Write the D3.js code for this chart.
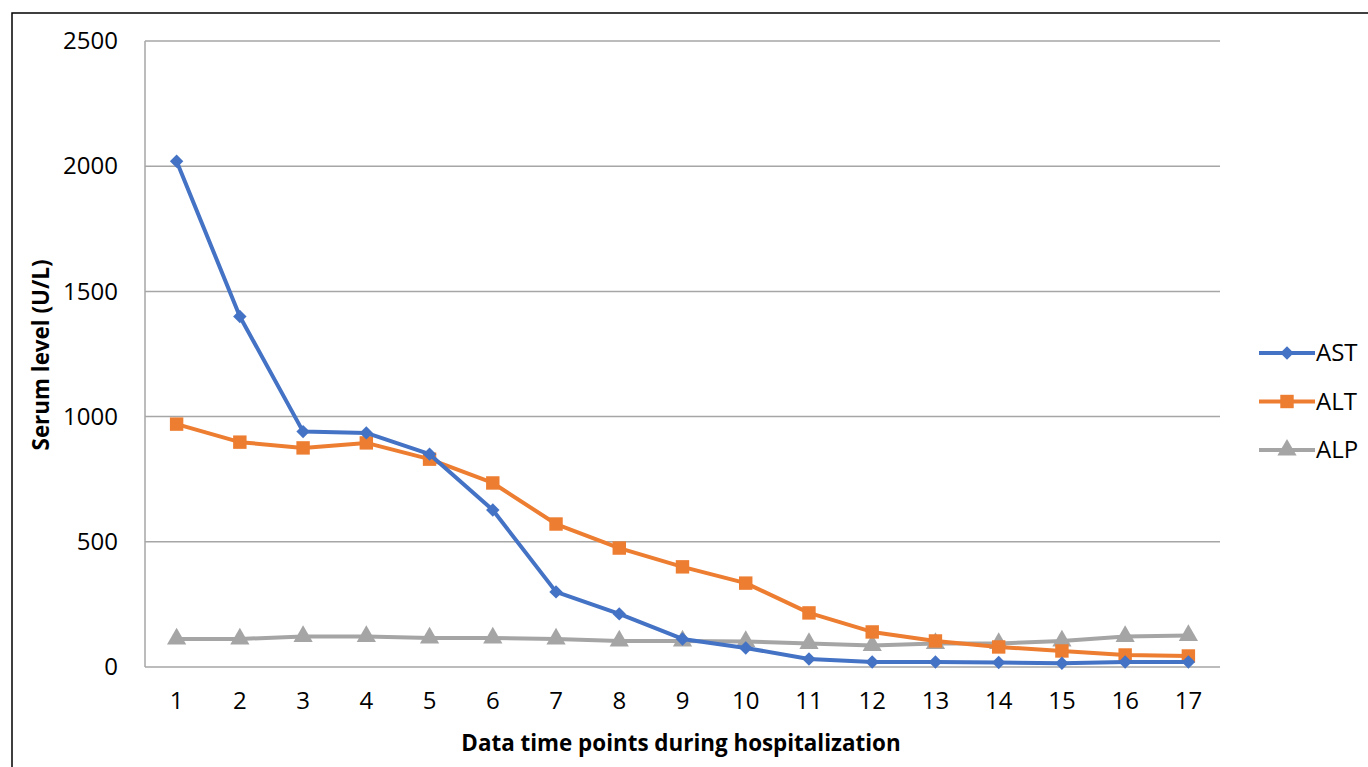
<!DOCTYPE html>
<html>
<head>
<meta charset="utf-8">
<script src="https://cdn.jsdelivr.net/npm/d3@7"></script>
<style>
  body { margin: 0; background: #fff; }
  svg { display: block; font-family: "Open Sans", sans-serif; }
</style>
</head>
<body>
<svg id="chart" width="1368" height="767"></svg>
<script>
// time points 1..17
var timePoints = d3.range(1, 18);
var yTicks = [0, 500, 1000, 1500, 2000, 2500];

var astValues = [2020, 1400, 940, 935, 850, 627, 300, 212, 112, 76, 32, 20, 20, 18, 15, 20, 20];
var altValues = [970, 898, 875, 895, 830, 735, 571, 475, 400, 335, 216, 140, 104, 80, 64, 48, 44];
var alpValues = [112, 112, 122, 122, 116, 116, 112, 104, 104, 102, 94, 86, 94, 94, 104, 122, 126];

var seriesNames = ['AST', 'ALT', 'ALP'];
var seriesColors = ['#4472C4', '#ED7D31', '#A5A5A5'];
var seriesShapes = [d3.symbolSquare, d3.symbolSquare, d3.symbolTriangle];
var seriesRotate = [45, 0, 0];
var seriesSizes = [90, 180, 160];

var svg = d3.select('#chart');

// outer frame (right/bottom edges fall off the picture)
svg.append('rect')
    .attr('x', 12).attr('y', 13)
    .attr('width', 1400).attr('height', 800)
    .attr('fill', 'none')
    .attr('stroke', '#000')
    .attr('stroke-width', 1.5);

var plot = {left: 145, right: 1220, top: 41, bottom: 667};

var x = d3.scaleBand()
    .domain(timePoints)
    .range([plot.left, plot.right]);

var y = d3.scaleLinear()
    .domain([0, 2500])
    .range([plot.bottom, plot.top]);

function cx(d) { return x(d) + x.bandwidth() / 2; }

// gridlines
svg.append('g')
    .selectAll('line')
    .data(yTicks)
    .join('line')
    .attr('x1', plot.left).attr('x2', plot.right)
    .attr('y1', function (d) { return y(d); })
    .attr('y2', function (d) { return y(d); })
    .attr('stroke', '#a6a6a6')
    .attr('stroke-width', 1.5);

// left axis line
svg.append('line')
    .attr('x1', plot.left).attr('x2', plot.left)
    .attr('y1', plot.top).attr('y2', plot.bottom)
    .attr('stroke', '#a6a6a6')
    .attr('stroke-width', 1.5);

// y tick labels
var yAxis = svg.append('g')
    .attr('transform', 'translate(' + (plot.left - 27) + ',0)')
    .call(d3.axisLeft(y).tickValues(yTicks).tickFormat(d3.format('d')).tickSize(0).tickPadding(0));
yAxis.select('.domain').remove();
yAxis.selectAll('text')
    .attr('font-family', '"Open Sans", sans-serif')
    .attr('font-size', 24)
    .attr('fill', '#000');

// x tick labels
var xAxis = svg.append('g')
    .attr('transform', 'translate(0,' + (plot.bottom + 25) + ')')
    .call(d3.axisBottom(x).tickSize(0).tickPadding(0));
xAxis.select('.domain').remove();
xAxis.selectAll('text')
    .attr('font-family', '"Open Sans", sans-serif')
    .attr('font-size', 24)
    .attr('fill', '#000');

// axis titles
svg.append('text')
    .attr('x', 681)
    .attr('y', 751)
    .attr('text-anchor', 'middle')
    .attr('font-size', 22.4)
    .attr('font-weight', 'bold')
    .text('Data time points during hospitalization');

svg.append('text')
    .attr('transform', 'translate(49,355) rotate(-90)')
    .attr('text-anchor', 'middle')
    .attr('font-size', 22.4)
    .attr('font-weight', 'bold')
    .text('Serum level (U/L)');

var allValues = [astValues, altValues, alpValues];
var line = d3.line()
    .x(function (d, i) { return cx(timePoints[i]); })
    .y(function (d) { return y(d); });

// draw ALP first so AST ends on top like the reference
[2, 1, 0].forEach(function (s) {
    var g = svg.append('g');
    g.append('path')
        .attr('d', line(allValues[s]))
        .attr('fill', 'none')
        .attr('stroke', seriesColors[s])
        .attr('stroke-width', 4)
        .attr('stroke-linejoin', 'round');
    g.selectAll('path.pt')
        .data(allValues[s])
        .join('path')
        .attr('class', 'pt')
        .attr('transform', function (d, i) {
            return 'translate(' + cx(timePoints[i]) + ',' + y(d) + ') rotate(' + seriesRotate[s] + ')';
        })
        .attr('d', d3.symbol().type(seriesShapes[s]).size(seriesSizes[s]))
        .attr('fill', seriesColors[s]);
});

// legend
var legend = svg.append('g');
seriesNames.forEach(function (name, i) {
    var ly = 353 + i * 48.5;
    legend.append('line')
        .attr('x1', 1259).attr('x2', 1315)
        .attr('y1', ly).attr('y2', ly)
        .attr('stroke', seriesColors[i])
        .attr('stroke-width', 4);
    legend.append('path')
        .attr('transform', 'translate(1287,' + ly + ') rotate(' + seriesRotate[i] + ')')
        .attr('d', d3.symbol().type(seriesShapes[i]).size(seriesSizes[i]))
        .attr('fill', seriesColors[i]);
    legend.append('text')
        .attr('x', 1316)
        .attr('y', ly)
        .attr('dy', '0.35em')
        .attr('font-size', 24)
        .text(name);
});
</script>
</body>
</html>
